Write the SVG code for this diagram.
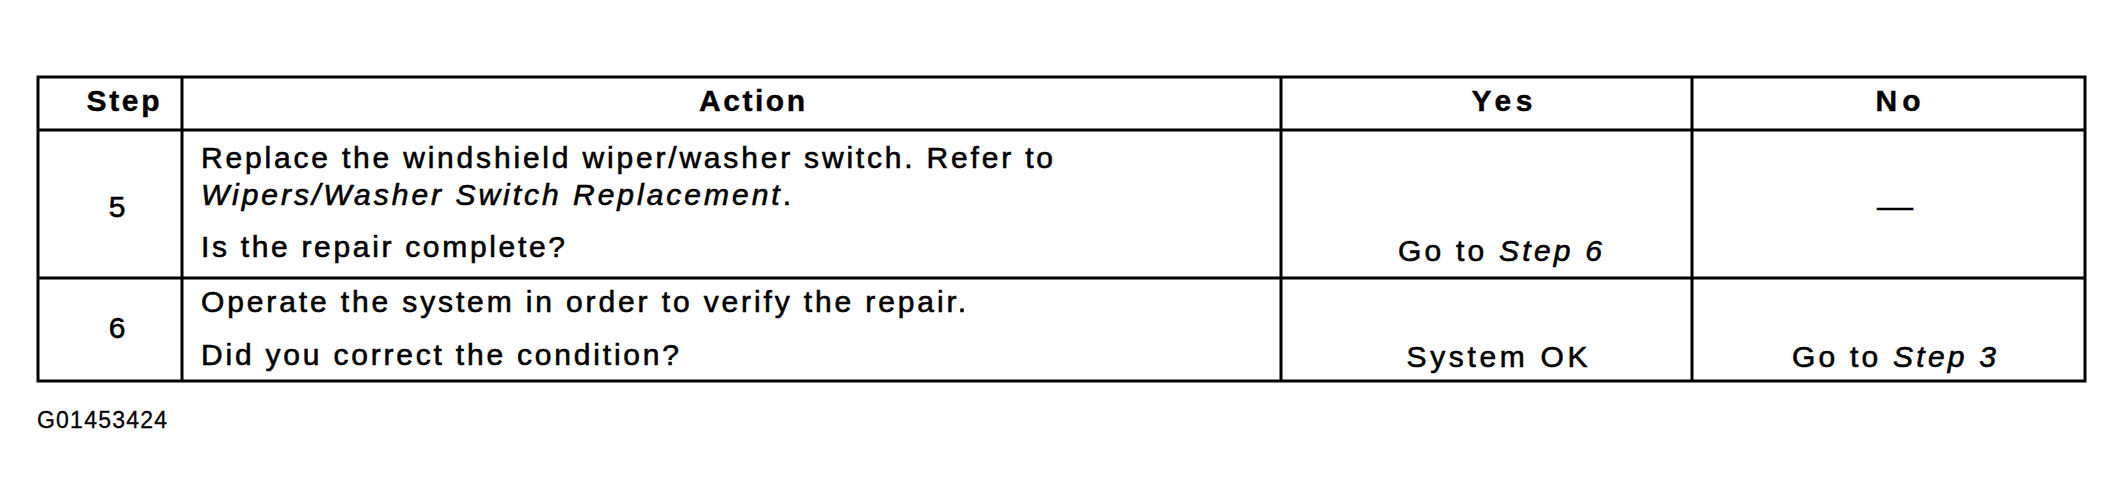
<svg xmlns="http://www.w3.org/2000/svg" width="2124" height="503" viewBox="0 0 2124 503">
<style>
.t{font-family:"Liberation Sans",Arial,Helvetica,sans-serif;font-size:30px;fill:#000;stroke:#000;stroke-width:0.6}
.b{font-weight:bold;stroke-width:0.4}
.i{font-style:italic}
.m{text-anchor:middle}
.g{stroke:#000;stroke-width:3;fill:none}
</style>
<rect width="2124" height="503" fill="#fff"/>
<g id="grid">
<rect class="g" x="38" y="77" width="2047" height="304" stroke-width="3.5"/>
<line class="g" x1="182" y1="77" x2="182" y2="381"/>
<line class="g" x1="1281" y1="77" x2="1281" y2="381"/>
<line class="g" x1="1692" y1="77" x2="1692" y2="381"/>
<line class="g" x1="38" y1="130" x2="2085" y2="130"/>
<line class="g" x1="38" y1="278" x2="2085" y2="278"/>
</g>
<g id="header">
<text class="t b m" x="123" y="111" textLength="73" lengthAdjust="spacing">Step</text>
<text class="t b m" x="752" y="111" textLength="106" lengthAdjust="spacing">Action</text>
<text class="t b m" x="1502" y="111" textLength="61" lengthAdjust="spacing">Yes</text>
<text class="t b m" x="1898" y="111" textLength="45" lengthAdjust="spacing">No</text>
</g>
<g id="row5">
<text class="t m" x="117" y="217">5</text>
<text class="t" x="201" y="168" textLength="852" lengthAdjust="spacing">Replace the windshield wiper/washer switch. Refer to</text>
<text class="t" x="201" y="205" textLength="590" lengthAdjust="spacing"><tspan class="i">Wipers/Washer Switch Replacement</tspan>.</text>
<text class="t" x="201" y="257" textLength="364" lengthAdjust="spacing">Is the repair complete?</text>
<text class="t m" x="1500" y="261" textLength="204" lengthAdjust="spacing">Go to <tspan class="i">Step 6</tspan></text>
<text class="t m" x="1895" y="217" textLength="36" lengthAdjust="spacingAndGlyphs">—</text>
</g>
<g id="row6">
<text class="t m" x="117" y="338">6</text>
<text class="t" x="201" y="312" textLength="765" lengthAdjust="spacing">Operate the system in order to verify the repair.</text>
<text class="t" x="201" y="365" textLength="478" lengthAdjust="spacing">Did you correct the condition?</text>
<text class="t m" x="1497" y="367" textLength="181" lengthAdjust="spacing">System OK</text>
<text class="t m" x="1894" y="367" textLength="204" lengthAdjust="spacing">Go to <tspan class="i">Step 3</tspan></text>
</g>
<g id="caption">
<text class="t" x="37" y="428" style="font-size:23px;stroke-width:0.3" textLength="130" lengthAdjust="spacing">G01453424</text>
</g>
</svg>
